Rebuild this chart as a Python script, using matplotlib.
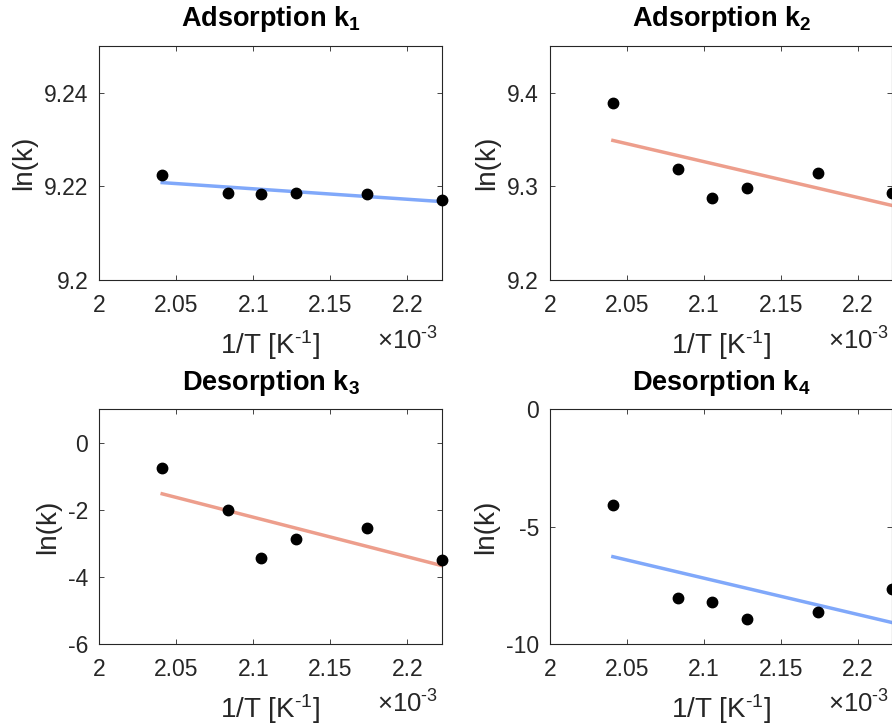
import numpy as np
import matplotlib
matplotlib.use("Agg")
import matplotlib.pyplot as plt
from matplotlib.ticker import FormatStrFormatter

plt.rcParams['font.family'] = ['Liberation Sans', 'DejaVu Sans']
plt.rcParams['mathtext.fontset'] = 'custom'
plt.rcParams['mathtext.rm'] = 'Liberation Sans'
plt.rcParams['mathtext.bf'] = 'Liberation Sans:bold'
plt.rcParams['mathtext.default'] = 'regular'
plt.rcParams['axes.unicode_minus'] = False

# temperatures [K] and fitted rate constants
T = np.array([490, 480, 475, 470, 460, 450])
lnk1 = [9.2225, 9.2186, 9.2183, 9.2185, 9.2184, 9.2172]
lnk2 = [9.3889, 9.3181, 9.2875, 9.2982, 9.3139, 9.2929]
lnk3 = [-0.76, -2.02, -3.43, -2.88, -2.55, -3.50]
lnk4 = [-4.08, -8.06, -8.20, -8.93, -8.66, -7.66]

titles = ['Adsorption k$_1$', 'Adsorption k$_2$', 'Desorption k$_3$', 'Desorption k$_4$']
series = [lnk1, lnk2, lnk3, lnk4]
ylims = [(9.2, 9.25), (9.2, 9.45), (-6, 1), (-10, 0)]
yticks = [[9.2, 9.22, 9.24], [9.2, 9.3, 9.4], [-6, -4, -2, 0], [-10, -5, 0]]
fitcolors = [(0.50, 0.66, 0.98), (0.93, 0.62, 0.55), (0.93, 0.62, 0.55), (0.50, 0.66, 0.98)]

# x axis in units of 1e-3 1/K
invT = 1000.0 / T

W, H = 892, 727
fig = plt.figure(figsize=(W / 100, H / 100), dpi=100)
lefts = [99.3, 550.0]
tops = [45.7, 409.3]
aw, ah = 342.4, 234.5

gray = (0.15, 0.15, 0.15)
for i in range(4):
    r, c = divmod(i, 2)
    x0 = lefts[c] / W
    y0 = 1 - (tops[r] + ah) / H
    ax = fig.add_axes([x0, y0, aw / W, ah / H])

    p = np.polyfit(invT, series[i], 1)
    ax.plot(invT, np.polyval(p, invT), color=fitcolors[i], lw=2.5, zorder=2)
    ax.plot(invT, series[i], 'o', color='k', ms=7.5, zorder=3, clip_on=False)

    ax.set_xlim(2.0, 1000.0 / 450)
    ax.set_ylim(*ylims[i])
    ax.set_xticks([2.0, 2.05, 2.1, 2.15, 2.2])
    ax.set_yticks(yticks[i])
    ax.xaxis.set_major_formatter(FormatStrFormatter('%g'))
    ax.yaxis.set_major_formatter(FormatStrFormatter('%g'))
    ax.tick_params(direction='in', length=3.5, width=0.6, top=True, right=True,
                   labelsize=16.5, colors=gray)
    ax.tick_params(axis='x', pad=10)
    ax.tick_params(axis='y', pad=8)
    for s in ax.spines.values():
        s.set_color(gray)
        s.set_linewidth(0.8)

    ax.set_title(titles[i], fontsize=19.5, fontweight='bold', pad=14)
    ax.set_xlabel('1/T [K$^{\u20101}$]', fontsize=20, color=gray, labelpad=8)
    ax.set_ylabel('ln(k)', fontsize=20, color=gray, labelpad=5)
    ax.text(0.99, -0.294, '\u00d710$^{\u20103}$', transform=ax.transAxes,
            ha='right', va='baseline', fontsize=18.5, color=gray)

fig.savefig('out.png', dpi=100)
